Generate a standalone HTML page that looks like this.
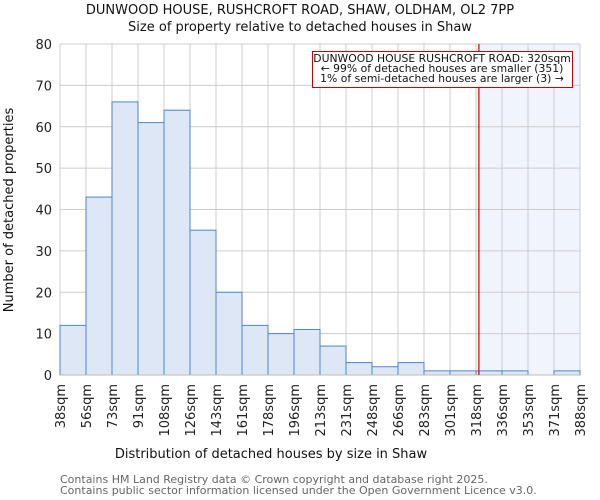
<!DOCTYPE html>
<html><head><meta charset="utf-8"><style>
body{margin:0;background:#fff}
svg{font-family:"DejaVu Sans","Liberation Sans",sans-serif;display:block}
</style></head><body>
<svg id="c" width="600" height="500"></svg>
<script>
const edgeLabels=["38sqm","56sqm","73sqm","91sqm","108sqm","126sqm","143sqm","161sqm","178sqm","196sqm","213sqm","231sqm","248sqm","266sqm","283sqm","301sqm","318sqm","336sqm","353sqm","371sqm","388sqm"];
const edges=[38,56,73,91,108,126,143,161,178,196,213,231,248,266,283,301,318,336,353,371,388];
const counts=[12,43,66,61,64,35,20,12,10,11,7,3,2,3,1,1,1,1,0,1];
const yTicks=[0,10,20,30,40,50,60,70,80];
const marker=320;
const L=60,R=580,T=44,B=375;
const n=counts.length;
const xi=i=>L+(R-L)*i/n;
const xv=v=>{for(let i=0;i<n;i++){if(v<=edges[i+1])return xi(i)+(v-edges[i])/(edges[i+1]-edges[i])*(R-L)/n;}return R;};
const y=v=>B-(B-T)*v/80;
const s=document.getElementById('c');const NS='http://www.w3.org/2000/svg';
function mk(t,a,txt){const e=document.createElementNS(NS,t);for(const k in a)e.setAttribute(k,a[k]);if(txt!=null)e.textContent=txt;s.appendChild(e);return e;}
let e;
e=mk('rect',{x:xv(marker),y:T,width:R-xv(marker),height:B-T,fill:'#f0f4fc'});


yTicks.forEach(v=>{e=mk('line',{x1:L,x2:R,y1:y(v),y2:y(v),stroke:'#cccccc'});


e=mk('text',{x:L-8,y:y(v)+5,'text-anchor':'end','font-size':13,fill:'#222'},v);

});
edges.forEach((v,i)=>{e=mk('line',{x1:xi(i),x2:xi(i),y1:T,y2:B,stroke:'#cccccc'});

});
counts.forEach((c,i)=>{e=mk('rect',{x:xi(i),y:y(c),width:(R-L)/n,height:B-y(c),fill:'#dde7f5',stroke:'#4a86d0','stroke-width':1});

});
e=mk('line',{x1:L,x2:R,y1:B,y2:B,stroke:'#bbbbbb'});


edgeLabels.forEach((t,i)=>{const x=xi(i)+5;e=mk('text',{x:x,y:384,'text-anchor':'end','font-size':13,fill:'#222',transform:`rotate(-90 ${x} 384)`},t);

});
e=mk('line',{x1:xv(marker),x2:xv(marker),y1:T,y2:B,stroke:'#cc0000','stroke-width':1.2});


e=mk('rect',{x:312.5,y:51.5,width:260,height:36,fill:'#fff',stroke:'#cc0000','stroke-width':1});


[["DUNWOOD HOUSE RUSHCROFT ROAD: 320sqm",62],["← 99% of detached houses are smaller (351)",72],["1% of semi-detached houses are larger (3) →",82]].forEach(a=>{e=mk('text',{x:442,y:a[1],'text-anchor':'middle','font-size':10.8,fill:'#111'},a[0]);

});
e=mk('text',{x:300,y:14,'text-anchor':'middle','font-size':13,fill:'#111'},'DUNWOOD HOUSE, RUSHCROFT ROAD, SHAW, OLDHAM, OL2 7PP');


e=mk('text',{x:300,y:31,'text-anchor':'middle','font-size':13,fill:'#111'},'Size of property relative to detached houses in Shaw');


e=mk('text',{x:271,y:458,'text-anchor':'middle','font-size':13,fill:'#111'},'Distribution of detached houses by size in Shaw');


e=mk('text',{x:13,y:210,'text-anchor':'middle','font-size':13,fill:'#111',transform:'rotate(-90 13 210)'},'Number of detached properties');


e=mk('text',{x:60,y:483,'font-size':11,fill:'#666'},'Contains HM Land Registry data © Crown copyright and database right 2025.');


e=mk('text',{x:60,y:494,'font-size':11,fill:'#666'},'Contains public sector information licensed under the Open Government Licence v3.0.');


</script>
</body></html>
